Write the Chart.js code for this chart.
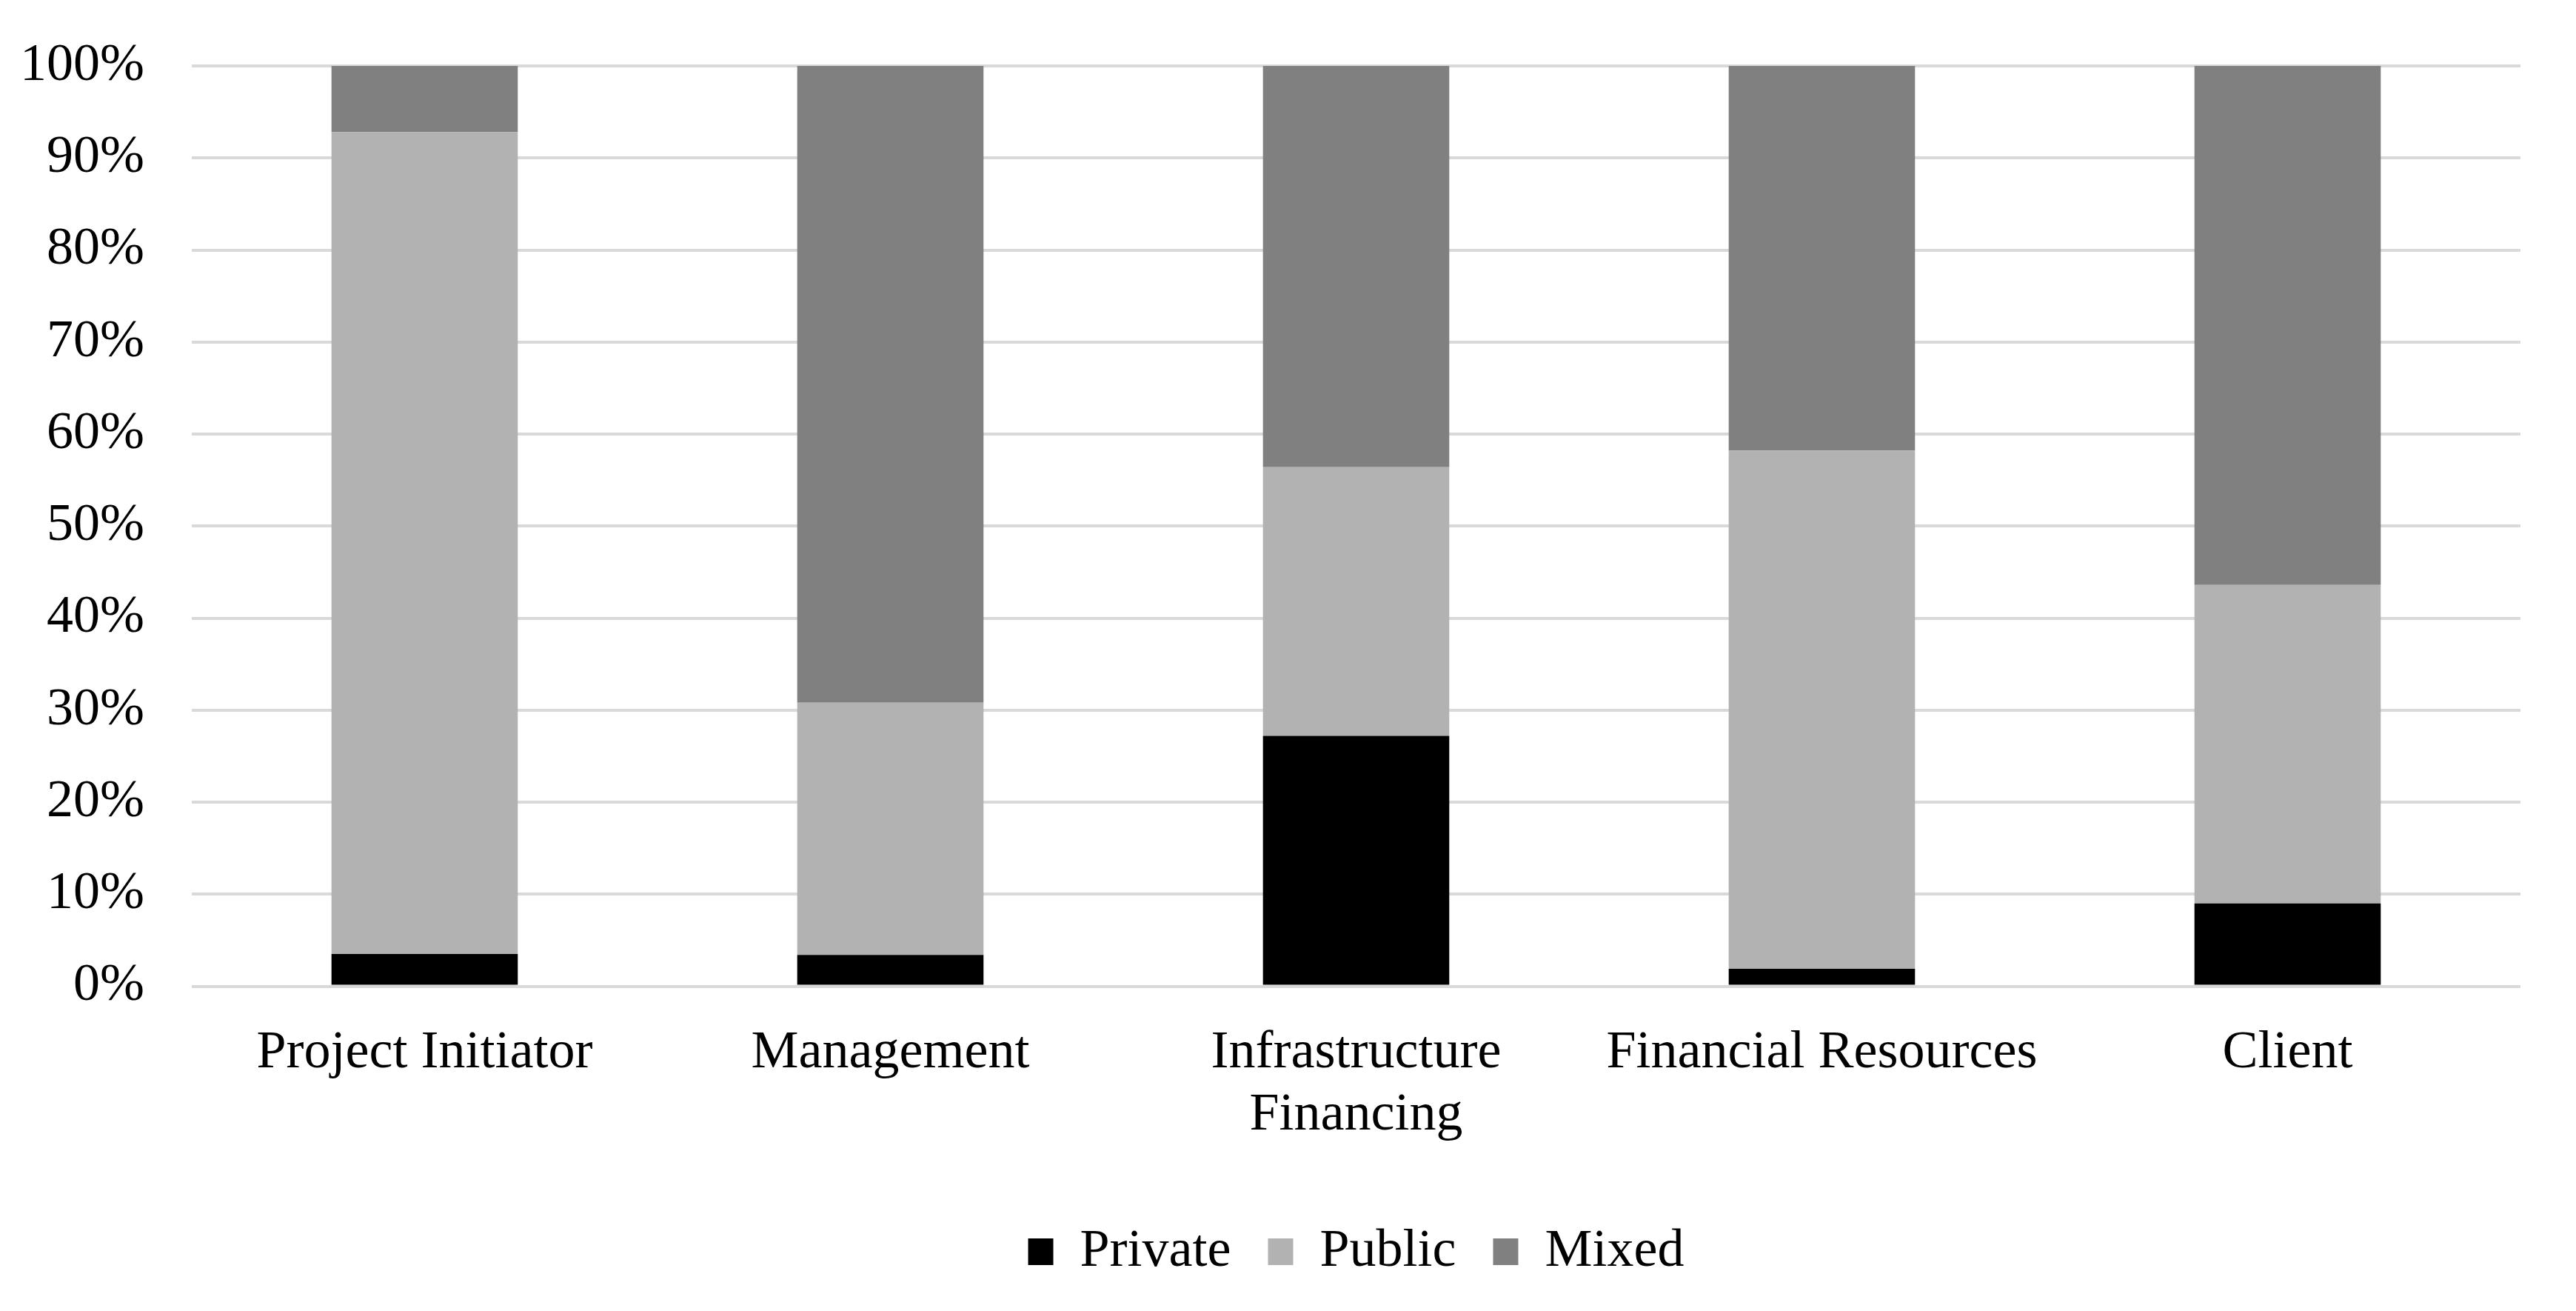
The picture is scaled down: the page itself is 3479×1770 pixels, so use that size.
<!DOCTYPE html>
<html>
<head>
<meta charset="utf-8">
<script src="https://cdn.jsdelivr.net/npm/chart.js@4/dist/chart.umd.min.js"></script>
<style>
  html, body { margin: 0; padding: 0; background: #ffffff; }
  #wrap { width: 3479px; height: 1770px; }
</style>
</head>
<body>
<div id="wrap"><canvas id="ownershipChart"></canvas></div>
<script>
// data (percent of each category)
const categories = [
    'Project Initiator',
    'Management',
    ['Infrastructure', 'Financing'],
    'Financial Resources',
    'Client'
];
const seriesNames = ['Private', 'Public', 'Mixed'];
const privateValues = [3.5, 3.4, 27.2, 1.9, 9.0];
const publicValues = [89.3, 27.4, 29.2, 56.3, 34.6];
const mixedValues = [7.2, 69.2, 43.6, 41.8, 56.4];
const yTicks = [0, 10, 20, 30, 40, 50, 60, 70, 80, 90, 100];

const serif = "'Liberation Serif', 'Times New Roman', serif";

// move the legend so it sits under the middle of the plot, like the original
const legendShift = {
    id: 'legendShift',
    beforeDraw(chart) {
        const lg = chart.legend;
        if (!lg || lg._shifted) return;
        const plotMid = (chart.chartArea.left + chart.chartArea.right) / 2;
        const boxMid = (lg.left + lg.right) / 2;
        const dx = plotMid - boxMid;
        lg.left += dx;
        lg.right += dx;
        lg._shifted = true;
    }
};

const ctx = document.getElementById('ownershipChart').getContext('2d');
new Chart(ctx, {
    type: 'bar',
    data: {
        labels: categories,
        datasets: [
            { label: seriesNames[0], data: privateValues, backgroundColor: '#000000' },
            { label: seriesNames[1], data: publicValues, backgroundColor: '#b2b2b2' },
            { label: seriesNames[2], data: mixedValues, backgroundColor: '#808080' }
        ]
    },
    options: {
        responsive: true,
        maintainAspectRatio: false,
        animation: false,
        layout: {
            padding: { top: 89, right: 75, bottom: 34, left: 27 }
        },
        datasets: {
            bar: { categoryPercentage: 1.0, barPercentage: 0.4 }
        },
        scales: {
            x: {
                stacked: true,
                grid: { display: false, drawTicks: false },
                border: { display: false },
                ticks: {
                    color: '#000000',
                    padding: 48,
                    maxRotation: 0,
                    autoSkip: false,
                    font: { family: serif, size: 72, lineHeight: 1.17 }
                },
                afterFit: (axis) => {
                    axis.height += 8;
                    axis.paddingLeft = 0;
                    axis.paddingRight = 0;
                }
            },
            y: {
                stacked: true,
                min: 0,
                max: 100,
                afterBuildTicks: (axis) => { axis.ticks = yTicks.map(v => ({ value: v })); },
                grid: { color: '#d9d9d9', lineWidth: 4, drawTicks: false },
                border: { display: false },
                ticks: {
                    color: '#000000',
                    padding: 64,
                    callback: v => v + '%',
                    font: { family: serif, size: 72 }
                },
                afterFit: (axis) => {
                    axis.width -= 64;
                    axis.paddingTop = 0;
                    axis.paddingBottom = 0;
                }
            }
        },
        plugins: {
            legend: {
                position: 'bottom',
                labels: {
                    color: '#000000',
                    boxWidth: 34,
                    boxHeight: 36,
                    padding: 50,
                    font: { family: serif, size: 72 }
                }
            },
            tooltip: { enabled: false }
        }
    },
    plugins: [legendShift]
});
</script>
</body>
</html>
